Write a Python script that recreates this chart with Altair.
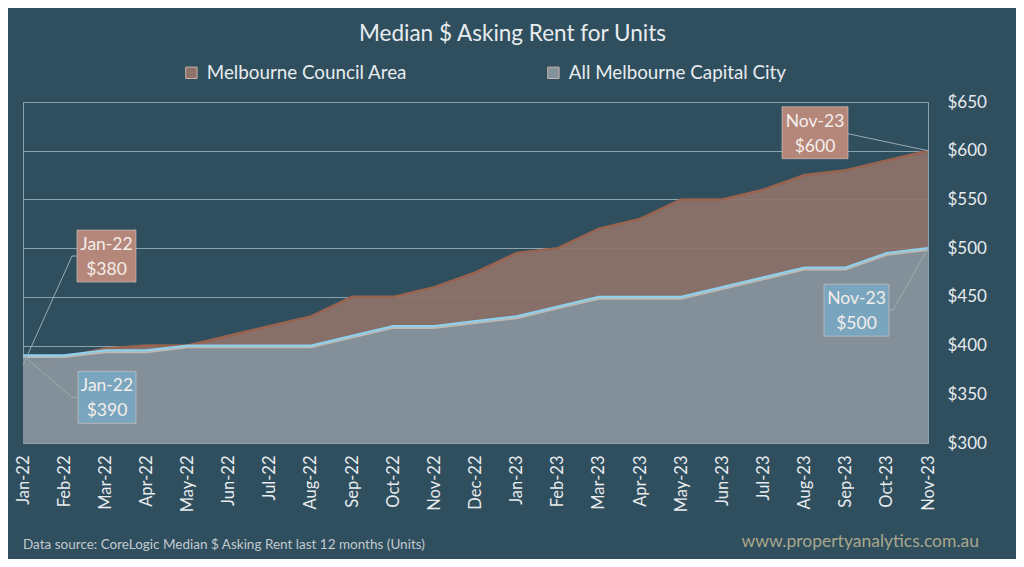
import altair as alt
import pandas as pd

months = ["Jan-22", "Feb-22", "Mar-22", "Apr-22", "May-22", "Jun-22", "Jul-22", "Aug-22",
          "Sep-22", "Oct-22", "Nov-22", "Dec-22", "Jan-23", "Feb-23", "Mar-23", "Apr-23",
          "May-23", "Jun-23", "Jul-23", "Aug-23", "Sep-23", "Oct-23", "Nov-23"]
melb_council = [380, 388, 397, 400, 400, 410, 420, 430, 450, 450, 460, 475, 495, 500,
                520, 530, 550, 550, 560, 575, 580, 590, 600]
all_melb = [390, 390, 395, 395, 400, 400, 400, 400, 410, 420, 420, 425, 430, 440,
            450, 450, 450, 460, 470, 480, 480, 495, 500]
series_names = ["Melbourne Council Area", "All Melbourne Capital City"]
y_ticks = [300, 350, 400, 450, 500, 550, 600, 650]
title_text = "Median $ Asking Rent for Units"
source_text = "Data source: CoreLogic Median $ Asking Rent last 12 months (Units)"
site_text = "www.propertyanalytics.com.au"

FONT = "Lato"
BG = "#2F4E5E"
TXT = "#E8ECEE"
BROWN_FILL = "#8F736A"
BLUE_FILL = "#83939D"
BROWN_BOX = "#B5877A"
BLUE_BOX = "#79A5BE"

df_mc = pd.DataFrame({"month": months, "value": melb_council, "series": series_names[0]})
df_am = pd.DataFrame({"month": months, "value": all_melb, "series": series_names[1]})

x_enc = alt.X("month:N", sort=months,
              scale=alt.Scale(type="point", padding=0),
              axis=alt.Axis(title=None, labelAngle=270, labelFontSize=16.5, labelColor=TXT,
                            labelFont=FONT, labelPadding=12, ticks=False, domain=False,
                            grid=False, labelAlign="right", labelBaseline="middle"))
y_enc = alt.Y("value:Q",
              scale=alt.Scale(domain=[300, 650], zero=False, nice=False),
              axis=alt.Axis(title=None, orient="right", values=y_ticks, format="$.0f",
                            labelFontSize=17, labelColor=TXT, labelFont=FONT,
                            labelPadding=19, ticks=False, domain=False,
                            grid=True, gridColor="#8EA2AB", gridWidth=1))
fill_enc = alt.Fill("series:N",
                    scale=alt.Scale(domain=series_names, range=[BROWN_FILL, BLUE_FILL]),
                    legend=alt.Legend(title=None, orient="none", legendX=159, legendY=-39,
                                      direction="horizontal", columns=2, columnPadding=136,
                                      symbolType="square", symbolSize=130,
                                      symbolStrokeColor="#C9B2A8", symbolStrokeWidth=1,
                                      symbolOpacity=1, labelFontSize=18.8, labelColor=TXT,
                                      labelFont=FONT, labelOffset=6, labelLimit=400))

brown_area = alt.Chart(df_mc).mark_area(opacity=0.92).encode(
    x=x_enc, y=y_enc, y2=alt.datum(300), fill=fill_enc)
brown_line = alt.Chart(df_mc).mark_line(color="#98634F", strokeWidth=2.5).encode(
    x=alt.X("month:N", sort=months), y="value:Q")
blue_area = alt.Chart(df_am).mark_area(opacity=0.92).encode(
    x=alt.X("month:N", sort=months), y="value:Q", y2=alt.datum(300), fill=fill_enc)
blue_shadow = alt.Chart(df_am).mark_line(color="#BDB8B0", strokeWidth=2, yOffset=1.8).encode(
    x=alt.X("month:N", sort=months), y="value:Q")
blue_line = alt.Chart(df_am).mark_line(color="#90D0EC", strokeWidth=2.2).encode(
    x=alt.X("month:N", sort=months), y="value:Q")


def annotation(month, value, fill, box_dx, box_dy, box_w, lead_dx, lead_dy, stub_dx):
    d = pd.DataFrame({"month": [month], "value": [value],
                      "label": [f"{month}\n${value}"]})
    base = alt.Chart(d)
    enc = dict(x=alt.X("month:N", sort=months), y="value:Q")
    lead = base.mark_rule(color="#9AABB3", strokeWidth=1, x2Offset=lead_dx,
                          y2Offset=lead_dy).encode(
        **enc, x2=alt.X2("month:N"), y2=alt.Y2("value:Q"))
    stub = base.mark_rule(color="#9AABB3", strokeWidth=1, xOffset=lead_dx, yOffset=lead_dy,
                          x2Offset=stub_dx, y2Offset=lead_dy).encode(
        **enc, x2=alt.X2("month:N"), y2=alt.Y2("value:Q"))
    box = base.mark_rect(fill=fill, stroke="#D9C9C2", strokeWidth=1, strokeOpacity=0.6,
                         width=box_w, height=52, xOffset=box_dx, yOffset=box_dy).encode(**enc)
    txt = base.mark_text(font=FONT, fontSize=17.5, color="#F4EEEA", align="center",
                         baseline="middle", lineBreak="\n", lineHeight=25,
                         xOffset=box_dx, yOffset=box_dy - 11).encode(**enc, text="label:N")
    return lead + stub + box + txt


ann1 = annotation(months[0], melb_council[0], BROWN_BOX, 83.5, -109, 59, 49, -109, 54)
ann2 = annotation(months[0], all_melb[0], BLUE_BOX, 84, 42, 58, 49, 42, 55)
ann3 = annotation(months[-1], melb_council[-1], BROWN_BOX, -113, -18, 66, -80, -17, -80)
ann4 = annotation(months[-1], all_melb[-1], BLUE_BOX, -71.5, 62, 65, -35, 62, -39)

src = alt.Chart(pd.DataFrame({"t": [source_text]})).mark_text(
    font=FONT, fontSize=13.5, color="#C2CACE", align="left", baseline="middle"
).encode(x=alt.value(0), y=alt.value(443), text="t:N")
site = alt.Chart(pd.DataFrame({"t": [site_text]})).mark_text(
    font=FONT, fontSize=17.5, color="#A9A78C", align="right", baseline="middle"
).encode(x=alt.value(956), y=alt.value(440), text="t:N")

chart = alt.layer(
    brown_area, brown_line, blue_area, blue_shadow, blue_line,
    ann1, ann2, ann3, ann4, src, site
).properties(
    width=905, height=341,
    title=alt.TitleParams(title_text, font=FONT, fontSize=22.5, fontWeight="normal",
                          color=TXT, anchor="middle", offset=18, dx=37),
    autosize=alt.AutoSizeParams(type="none"),
    padding={"left": 15, "top": 94, "right": 88, "bottom": 116},
).configure(background=BG).configure_view(stroke="#8EA2AB", strokeWidth=1)

chart.save("out.html", embed_options={"renderer": "svg", "actions": False})
